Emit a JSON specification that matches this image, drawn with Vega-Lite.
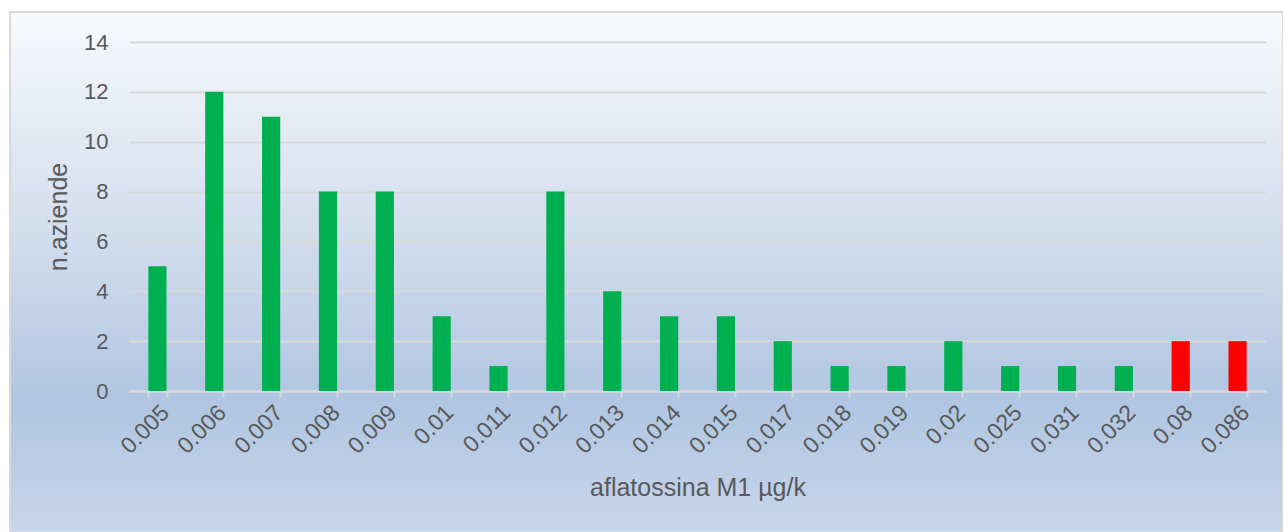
{
  "$schema": "https://vega.github.io/schema/vega-lite/v6.json",
  "width": 1273,
  "height": 520,
  "autosize": {"type": "none"},
  "padding": {"left": 10, "top": 12, "right": 0, "bottom": 0},
  "background": "#ffffff",
  "title": {
    "text": "aflatossina M1 rilevati",
    "anchor": "start",
    "frame": "group",
    "orient": "top",
    "offset": 9,
    "dx": -10,
    "fontSize": 22,
    "font": "Liberation Sans",
    "fontWeight": "normal",
    "color": "#000000"
  },
  "config": {
    "font": "Liberation Sans",
    "view": {
      "fill": {
        "gradient": "linear",
        "x1": 0, "y1": 0, "x2": 0, "y2": 1,
        "stops": [
          {"offset": 0, "color": "#f7f9fc"},
          {"offset": 0.2, "color": "#e6ecf5"},
          {"offset": 0.5, "color": "#cbd8eb"},
          {"offset": 0.75, "color": "#afc5e1"},
          {"offset": 1, "color": "#c7d6eb"}
        ]
      },
      "stroke": "#d9d9d9",
      "strokeWidth": 2
    }
  },
  "data": {
    "values": [
      {"valore": "0.005", "aziende": 5, "esito": "conforme"},
      {"valore": "0.006", "aziende": 12, "esito": "conforme"},
      {"valore": "0.007", "aziende": 11, "esito": "conforme"},
      {"valore": "0.008", "aziende": 8, "esito": "conforme"},
      {"valore": "0.009", "aziende": 8, "esito": "conforme"},
      {"valore": "0.01", "aziende": 3, "esito": "conforme"},
      {"valore": "0.011", "aziende": 1, "esito": "conforme"},
      {"valore": "0.012", "aziende": 8, "esito": "conforme"},
      {"valore": "0.013", "aziende": 4, "esito": "conforme"},
      {"valore": "0.014", "aziende": 3, "esito": "conforme"},
      {"valore": "0.015", "aziende": 3, "esito": "conforme"},
      {"valore": "0.017", "aziende": 2, "esito": "conforme"},
      {"valore": "0.018", "aziende": 1, "esito": "conforme"},
      {"valore": "0.019", "aziende": 1, "esito": "conforme"},
      {"valore": "0.02", "aziende": 2, "esito": "conforme"},
      {"valore": "0.025", "aziende": 1, "esito": "conforme"},
      {"valore": "0.031", "aziende": 1, "esito": "conforme"},
      {"valore": "0.032", "aziende": 1, "esito": "conforme"},
      {"valore": "0.08", "aziende": 2, "esito": "non conforme"},
      {"valore": "0.086", "aziende": 2, "esito": "non conforme"}
    ]
  },
  "mark": {"type": "bar"},
  "encoding": {
    "x": {
      "field": "valore",
      "type": "ordinal",
      "sort": null,
      "scale": {"range": [119, 1256], "paddingInner": 0.68, "paddingOuter": 0.34},
      "axis": {
        "title": "aflatossina M1 µg/k",
        "offset": -141,
        "labelAngle": -45,
        "labelFontSize": 23,
        "labelColor": "#595959",
        "labelPadding": 4,
        "titleFontSize": 25,
        "titleFontWeight": "normal",
        "titleColor": "#595959",
        "titlePadding": 18,
        "domainColor": "#d9d9d9",
        "domainWidth": 2,
        "tickColor": "#d9d9d9",
        "tickWidth": 2,
        "tickSize": 6,
        "tickBand": "extent",
        "grid": false
      }
    },
    "y": {
      "field": "aziende",
      "type": "quantitative",
      "scale": {"domain": [0, 14], "range": [379, 30], "nice": false},
      "axis": {
        "title": "n.aziende",
        "offset": -119,
        "values": [0, 2, 4, 6, 8, 10, 12, 14],
        "labelFontSize": 22,
        "labelColor": "#595959",
        "labelPadding": 21,
        "ticks": false,
        "domain": false,
        "grid": true,
        "gridColor": "#d9d9d9",
        "gridWidth": 2,
        "titleFontSize": 25,
        "titleFontWeight": "normal",
        "titleColor": "#595959",
        "titlePadding": 12
      }
    },
    "color": {
      "field": "esito",
      "type": "nominal",
      "scale": {"domain": ["conforme", "non conforme"], "range": ["#00b050", "#ff0000"]},
      "legend": null
    }
  }
}
